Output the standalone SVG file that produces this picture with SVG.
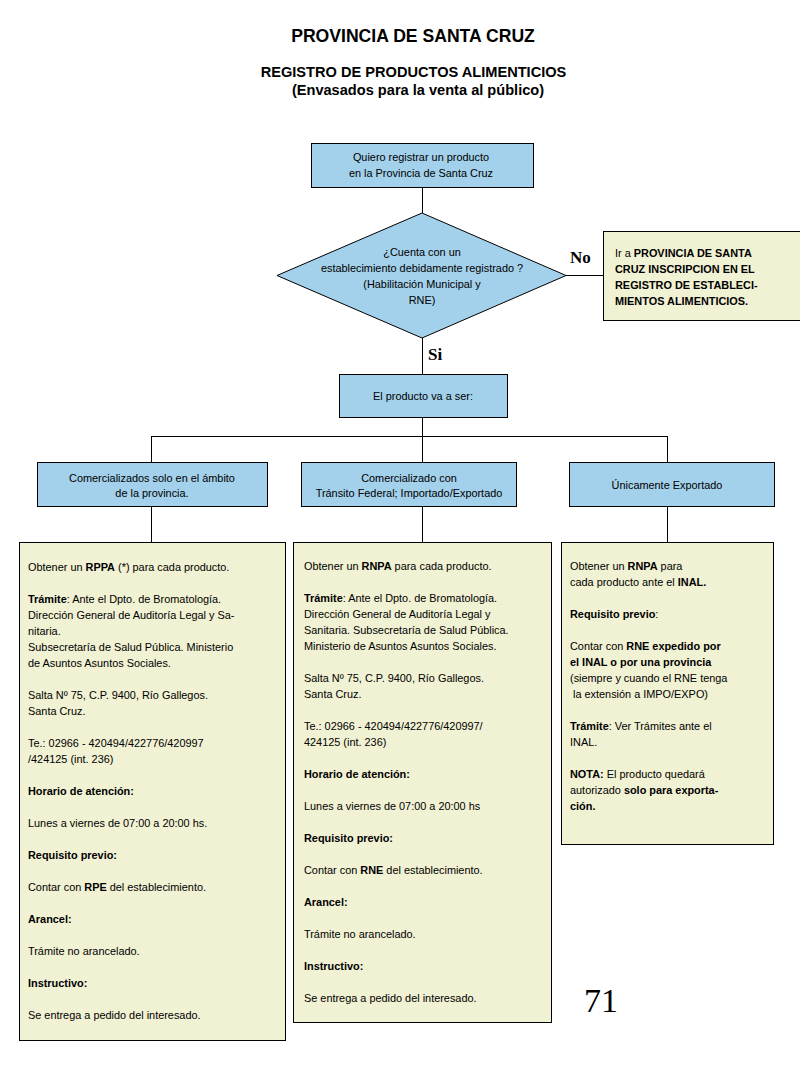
<svg xmlns="http://www.w3.org/2000/svg" width="800" height="1066" viewBox="0 0 800 1066">
<style>
.t{font-family:"Liberation Sans",Arial,sans-serif;font-size:10.9px;fill:#000}
.c{text-anchor:middle}
.b{font-weight:bold}
.blue{fill:#A3D0EA;stroke:#000;stroke-width:1}
.yel{fill:#F1F1D3;stroke:#000;stroke-width:1}
.ln{stroke:#000;stroke-width:1;fill:none}
.h1{font-family:"Liberation Sans",Arial,sans-serif;font-weight:bold;font-size:17.6px;text-anchor:middle}
.h2{font-family:"Liberation Sans",Arial,sans-serif;font-weight:bold;font-size:14.6px;text-anchor:middle}
.lab{font-family:"Liberation Serif","Times New Roman",serif;font-weight:bold;font-size:17px}
</style>
<rect width="800" height="1066" fill="#fff"/>
<g id="title">
<text class="h1" x="413" y="42">PROVINCIA DE SANTA CRUZ</text>
<text class="h2" x="413.5" y="77">REGISTRO DE PRODUCTOS ALIMENTICIOS</text>
<text class="h2" x="418" y="95">(Envasados para la venta al público)</text>
</g>
<g id="connectors">
<path class="ln" d="M422.5 187V213M566 275.5H603M422.5 338V374M422.5 417V436.5M151.5 436.5H667.5M151.5 436V462M422.5 436V462M667.5 436V462M151.5 506V542M422.5 506V542M667.5 506V542"/>
</g>
<g id="start">
<rect class="blue" x="311.5" y="143.5" width="222" height="44"/>
<text class="t c" x="421" y="161">Quiero registrar un producto</text>
<text class="t c" x="421" y="177">en la Provincia de Santa Cruz</text>
</g>
<g id="decision">
<polygon class="blue" points="422,213 566,275.5 422,338 277,275.5"/>
<text class="t c" x="422" y="256">¿Cuenta con un</text>
<text class="t c" x="422" y="272">establecimiento debidamente registrado ?</text>
<text class="t c" x="422" y="288">(Habilitación Municipal y</text>
<text class="t c" x="422" y="304">RNE)</text>
</g>
<g id="label-no"><text class="lab" x="570" y="263">No</text></g>
<g id="label-si"><text class="lab" x="428" y="360">Si</text></g>
<g id="establecimientos">
<rect class="yel" x="603.5" y="231.5" width="200" height="89"/>
<text class="t" x="615" y="257">Ir a <tspan class="b">PROVINCIA DE SANTA</tspan></text>
<text class="t b" x="615" y="273">CRUZ INSCRIPCION EN EL</text>
<text class="t b" x="615" y="289">REGISTRO DE ESTABLECI-</text>
<text class="t b" x="615" y="305">MIENTOS ALIMENTICIOS.</text>
</g>
<g id="destino">
<rect class="blue" x="339.5" y="374.5" width="168" height="43"/>
<text class="t c" x="423" y="400">El producto va a ser:</text>
</g>
<g id="cat-provincia">
<rect class="blue" x="37.5" y="462.5" width="230" height="44"/>
<text class="t c" x="152" y="482">Comercializados solo en el ámbito</text>
<text class="t c" x="152" y="497">de la provincia.</text>
</g>
<g id="cat-federal">
<rect class="blue" x="301.5" y="462.5" width="215" height="44"/>
<text class="t c" x="409" y="482">Comercializado con</text>
<text class="t c" x="409" y="497">Tránsito Federal; Importado/Exportado</text>
</g>
<g id="cat-exportado">
<rect class="blue" x="569.5" y="462.5" width="205" height="44"/>
<text class="t c" x="667" y="489">Únicamente Exportado</text>
</g>
<g id="info-provincia">
<rect class="yel" x="19.5" y="542.5" width="266" height="498"/>
<text class="t" x="28" y="571">Obtener un <tspan class="b">RPPA</tspan> (*) para cada producto.</text>
<text class="t" x="28" y="603"><tspan class="b">Trámite</tspan>: Ante el Dpto. de Bromatología.</text>
<text class="t" x="28" y="619">Dirección General de Auditoría Legal y Sa-</text>
<text class="t" x="28" y="635">nitaria.</text>
<text class="t" x="28" y="651">Subsecretaría de Salud Pública. Ministerio</text>
<text class="t" x="28" y="667">de Asuntos Asuntos Sociales.</text>
<text class="t" x="28" y="699">Salta Nº 75, C.P. 9400, Río Gallegos.</text>
<text class="t" x="28" y="715">Santa Cruz.</text>
<text class="t" x="28" y="747">Te.: 02966 - 420494/422776/420997</text>
<text class="t" x="28" y="763">/424125 (int. 236)</text>
<text class="t b" x="28" y="795">Horario de atención:</text>
<text class="t" x="28" y="827">Lunes a viernes de 07:00 a 20:00 hs.</text>
<text class="t b" x="28" y="859">Requisito previo:</text>
<text class="t" x="28" y="891">Contar con <tspan class="b">RPE</tspan> del establecimiento.</text>
<text class="t b" x="28" y="923">Arancel:</text>
<text class="t" x="28" y="955">Trámite no arancelado.</text>
<text class="t b" x="28" y="987">Instructivo:</text>
<text class="t" x="28" y="1019">Se entrega a pedido del interesado.</text>
</g>
<g id="info-federal">
<rect class="yel" x="293.5" y="542.5" width="258" height="480"/>
<text class="t" x="304" y="570">Obtener un <tspan class="b">RNPA</tspan> para cada producto.</text>
<text class="t" x="304" y="602"><tspan class="b">Trámite</tspan>: Ante el Dpto. de Bromatología.</text>
<text class="t" x="304" y="618">Dirección General de Auditoría Legal y</text>
<text class="t" x="304" y="634">Sanitaria. Subsecretaría de Salud Pública.</text>
<text class="t" x="304" y="650">Ministerio de Asuntos Asuntos Sociales.</text>
<text class="t" x="304" y="682">Salta Nº 75, C.P. 9400, Río Gallegos.</text>
<text class="t" x="304" y="698">Santa Cruz.</text>
<text class="t" x="304" y="730">Te.: 02966 - 420494/422776/420997/</text>
<text class="t" x="304" y="746">424125 (int. 236)</text>
<text class="t b" x="304" y="778">Horario de atención:</text>
<text class="t" x="304" y="810">Lunes a viernes de 07:00 a 20:00 hs</text>
<text class="t b" x="304" y="842">Requisito previo:</text>
<text class="t" x="304" y="874">Contar con <tspan class="b">RNE</tspan> del establecimiento.</text>
<text class="t b" x="304" y="906">Arancel:</text>
<text class="t" x="304" y="938">Trámite no arancelado.</text>
<text class="t b" x="304" y="970">Instructivo:</text>
<text class="t" x="304" y="1002">Se entrega a pedido del interesado.</text>
</g>
<g id="info-exportado">
<rect class="yel" x="561.5" y="542.5" width="212" height="302"/>
<text class="t" x="570" y="570">Obtener un  <tspan class="b">RNPA</tspan> para</text>
<text class="t" x="570" y="586">cada producto ante el <tspan class="b">INAL.</tspan></text>
<text class="t" x="570" y="618"><tspan class="b">Requisito previo</tspan>:</text>
<text class="t" x="570" y="650">Contar con <tspan class="b">RNE expedido por</tspan></text>
<text class="t b" x="570" y="666">el INAL o por una provincia</text>
<text class="t" x="570" y="682">(siempre y cuando el RNE tenga</text>
<text class="t" x="573" y="698">la extensión a IMPO/EXPO)</text>
<text class="t" x="570" y="730"><tspan class="b">Trámite</tspan>: Ver Trámites ante el</text>
<text class="t" x="570" y="746">INAL.</text>
<text class="t" x="570" y="778"><tspan class="b">NOTA:</tspan> El producto quedará</text>
<text class="t" x="570" y="794">autorizado <tspan class="b">solo para exporta-</tspan></text>
<text class="t b" x="570" y="810">ción.</text>
</g>
<g id="page-number">
<text x="584" y="1012" font-family="'Liberation Serif','Times New Roman',serif" font-size="34">71</text>
</g>
</svg>
